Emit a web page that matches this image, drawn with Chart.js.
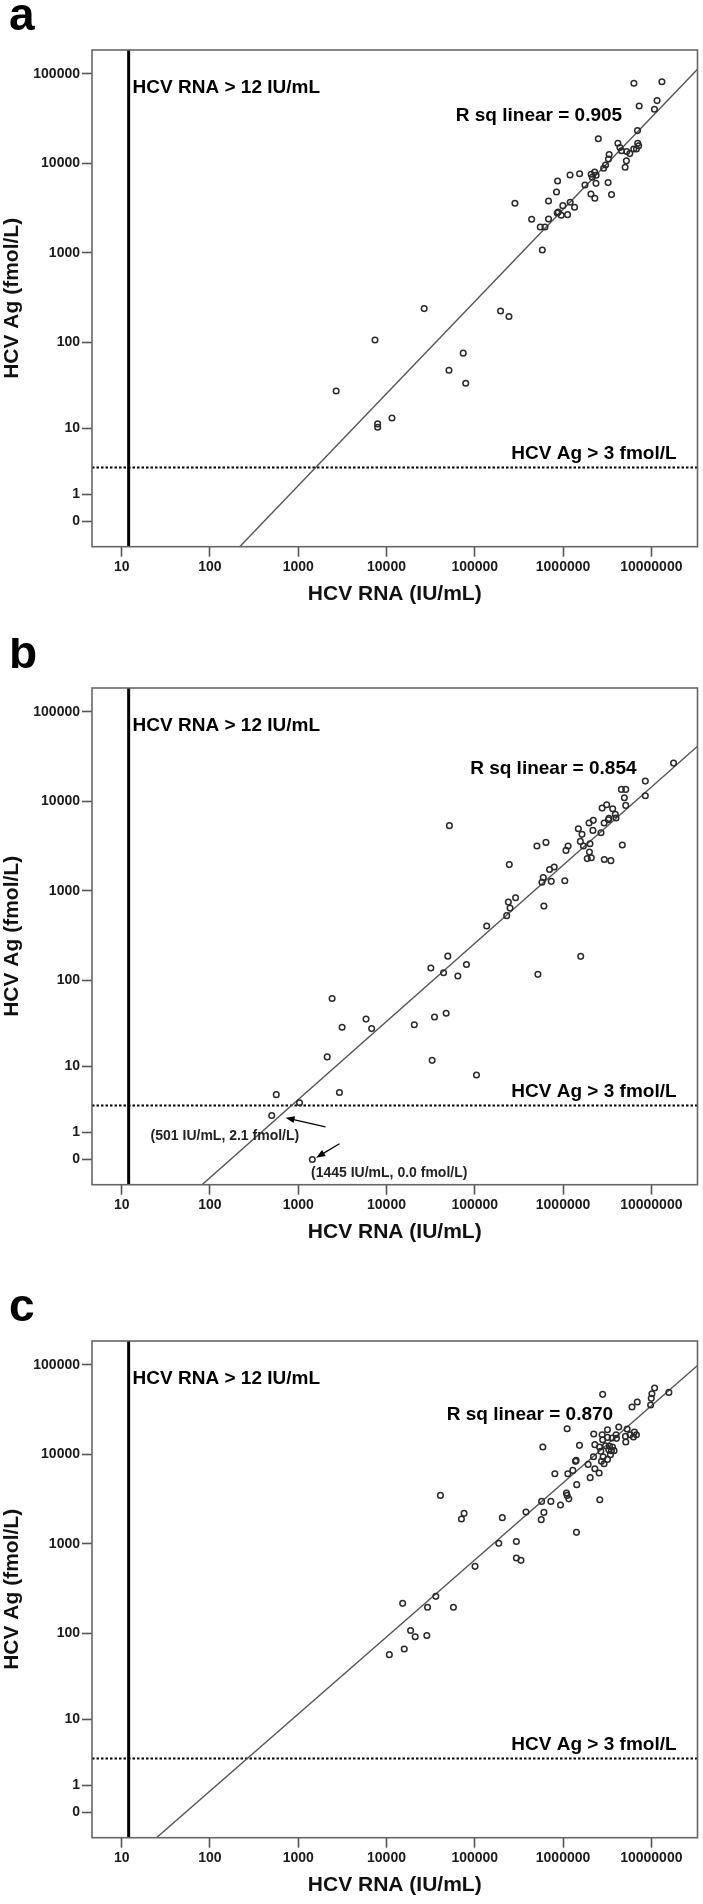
<!DOCTYPE html>
<html>
<head>
<meta charset="utf-8">
<script src="https://cdn.jsdelivr.net/npm/chart.js@4.4.1/dist/chart.umd.min.js"></script>
<style>
  html, body { margin: 0; padding: 0; background: #fff; }
  body { width: 703px; height: 1904px; position: relative; overflow: hidden; }
  canvas.panel { position: absolute; left: 0; }
</style>
</head>
<body>
<canvas id="chartA" class="panel" width="703" height="612" style="top:0px"></canvas>
<canvas id="chartB" class="panel" width="703" height="612" style="top:638px"></canvas>
<canvas id="chartC" class="panel" width="703" height="612" style="top:1291px"></canvas>
<script>
// Axis ticks (HCV RNA on log axis, HCV Ag on log(y+1) axis)
const xTickValues = [10, 100, 1000, 10000, 100000, 1000000, 10000000];
const xTickLabels = ['10', '100', '1000', '10000', '100000', '1000000', '10000000'];
const yTickValues = [0, 1, 10, 100, 1000, 10000, 100000];
const yTickLabels = ['0', '1', '10', '100', '1000', '10000', '100000'];

// Cut-off reference lines
const rnaCutoff = 12;   // IU/mL
const agCutoff = 3;     // fmol/L

// Panel a: HCV RNA (IU/mL) vs HCV Ag (fmol/L)
const rnaA = [6350000, 13180000, 11610000, 10840000, 7280000, 6970000, 2510000, 4180000, 4410000, 4600000,
  5270000, 6320000, 6780000, 7010000, 7190000, 5700000, 5220000, 5050000, 3330000, 3270000,
  3030000, 2880000, 3240000, 3540000, 2280000, 2080000, 2370000, 2140000, 2360000, 2070000,
  2290000, 1770000, 1540000, 1200000, 867000, 843000, 685000, 1205000, 995000, 1350000,
  881000, 859000, 953000, 1125000, 685000, 441000, 552000, 624000, 285000, 582000,
  26700, 196000, 244000, 2690, 7410, 7940, 7940, 11530, 51000, 74000, 79000];
const agA = [78700, 82000, 50400, 40300, 43900, 23300, 18900, 16800, 15100, 13900,
  13600, 14500, 14500, 16800, 15800, 12900, 10700, 9060, 12600, 11200,
  9620, 8830, 6110, 4490, 8040, 7570, 7380, 7010, 6000, 4560,
  4080, 5750, 7690, 7430, 6370, 4800, 3810, 3680, 3380, 3240,
  2870, 2800, 2640, 2680, 2400, 2380, 1950, 1950, 3590, 1080,
  238, 224, 194, 27.7, 105.7, 11.3, 10.3, 13.3, 48, 75, 34];

// Panel b
const rnaB = [17860000, 8550000, 8550000, 4580000, 5130000, 4950000, 5130000, 2770000, 3120000, 3650000,
  3910000, 3310000, 3980000, 2920000, 3270000, 2690000, 2200000, 1970000, 2180000, 1490000,
  1640000, 1570000, 1700000, 2020000, 1990000, 1880000, 2090000, 2930000, 3480000, 4690000,
  1140000, 1080000, 640000, 506000, 703000, 794000, 597000, 577000, 735000, 1047000,
  607000, 246000, 51600, 240000, 290000, 251000, 230000, 136500, 1585000, 519000,
  49500, 31800, 44300, 64300, 80500, 47400, 35000, 20650, 2420, 5860,
  3140, 6790, 2130, 32900, 564, 2930, 1035, 501, 1445, 104500];
const agB = [26850, 16900, 11600, 13650, 13650, 11000, 9040, 8430, 9180, 8280,
  7180, 6470, 6530, 5740, 6250, 4480, 6150, 5740, 4750, 4960,
  4290, 3580, 3180, 3370, 2720, 2300, 2350, 2250, 2180, 3260,
  3180, 2840, 3490, 3180, 1740, 1850, 1410, 1250, 1280, 1300,
  677, 1970, 5370, 750, 840, 643, 529, 405, 185, 116,
  186, 137, 121, 111, 150, 42, 38, 31, 62, 36,
  29, 28, 13, 11.8, 4.3, 4.6, 3.3, 2.1, 0, 7.8];

// Panel c
const rnaC = [15810000, 10890000, 10160000, 9980000, 9820000, 6930000, 6040000, 2810000, 1112000, 590000,
  1535000, 40830, 75680, 70630, 205100, 380200, 566200, 606700, 571500, 727800,
  935400, 1094000, 1112000, 1161000, 1419000, 1429000, 807200, 1132000, 1291000, 1384000,
  1406000, 1923000, 2028000, 2291000, 2564000, 2606000, 2291000, 2228000, 2773000, 3184000,
  2812000, 3184000, 3027000, 2679000, 2844000, 2723000, 2917000, 3296000, 3532000, 3784000,
  3443000, 3597000, 3990000, 4276000, 5093000, 5321000, 5741000, 6427000, 6776000, 6266000,
  5140000, 4027000, 3357000, 3631000, 2588000, 2213000, 3184000, 187100, 295800, 295800,
  333400, 100700, 36220, 29170, 57280, 15240, 18750, 21130, 28640, 10770, 15890];
const agC = [49400, 55300, 47750, 42360, 35730, 38550, 33960, 46990, 19410, 12130,
  12650, 3490, 2197, 1900, 1967, 2274, 1870, 2253, 2991, 2991,
  2728, 3714, 3490, 3191, 1348, 4602, 6094, 6094, 6637, 8374,
  8590, 7744, 5507, 6933, 6208, 3125, 12880, 16940, 16630, 18920,
  14620, 15520, 12530, 10840, 9440, 8374, 7888, 11320, 11040, 11040,
  9953, 15280, 16630, 20270, 15920, 19270, 16630, 17820, 16630, 15670,
  13800, 15140, 12330, 12130, 12130, 9440, 8810, 1015, 1066, 697,
  655, 561, 259, 195, 195, 216, 107, 91, 94, 57, 66];

// Linear fit in log space: log10(Ag+1) = intercept + slope * log10(RNA)
const fitSlope = [1.029, 0.873, 0.861];
const fitIntercept = [-2.687, -1.95, -1.483];
const rSquared = ['0.905', '0.854', '0.870'];

const FONT = '"Liberation Sans", Arial, Helvetica, sans-serif';
Chart.defaults.font.family = FONT;
Chart.defaults.color = '#111';

const toX = v => Math.log10(v);
const toY = v => Math.log10(v + 1);

// visible window in axis units
const X_MIN = 0.664, X_MAX = 7.523;
const Y_MIN = -0.282, Y_MAX = 5.268;

// frame, panel letter, text notes and arrows
const panelDecor = {
    id: 'panelDecor',
    afterDatasetsDraw(chart, args, opts) {
        const { ctx, chartArea: area } = chart;
        const xs = chart.scales.x, ys = chart.scales.y;
        ctx.save();
        ctx.strokeStyle = '#666';
        ctx.lineWidth = 1.6;
        ctx.strokeRect(area.left, area.top, area.right - area.left, area.bottom - area.top);

        ctx.fillStyle = '#000';
        ctx.font = 'bold 46px ' + FONT;
        ctx.textAlign = 'left';
        ctx.textBaseline = 'alphabetic';
        ctx.fillText(opts.letter, 9, 30);

        opts.notes.forEach(n => {
            ctx.font = n.font + ' ' + FONT;
            ctx.textAlign = n.align;
            ctx.textBaseline = 'middle';
            ctx.fillStyle = n.color || '#000';
            ctx.fillText(n.text, xs.getPixelForValue(n.at[0]), ys.getPixelForValue(n.at[1]));
        });

        (opts.arrows || []).forEach(a => {
            const x1 = xs.getPixelForValue(a.from[0]), y1 = ys.getPixelForValue(a.from[1]);
            const x2 = xs.getPixelForValue(a.to[0]), y2 = ys.getPixelForValue(a.to[1]);
            const ang = Math.atan2(y2 - y1, x2 - x1);
            ctx.strokeStyle = '#000';
            ctx.fillStyle = '#000';
            ctx.lineWidth = 1.3;
            ctx.beginPath();
            ctx.moveTo(x1, y1);
            ctx.lineTo(x2 - 6 * Math.cos(ang), y2 - 6 * Math.sin(ang));
            ctx.stroke();
            ctx.beginPath();
            ctx.moveTo(x2, y2);
            ctx.lineTo(x2 - 9 * Math.cos(ang) + 3.5 * Math.sin(ang), y2 - 9 * Math.sin(ang) - 3.5 * Math.cos(ang));
            ctx.lineTo(x2 - 9 * Math.cos(ang) - 3.5 * Math.sin(ang), y2 - 9 * Math.sin(ang) + 3.5 * Math.cos(ang));
            ctx.closePath();
            ctx.fill();
        });
        ctx.restore();
    }
};

function makeChart(canvasId, idx, rna, ag, letter, notes, arrows) {
    const ctx = document.getElementById(canvasId).getContext('2d');
    const points = rna.map((v, i) => ({ x: toX(v), y: toY(ag[i]) }));
    const m = fitSlope[idx], b = fitIntercept[idx];

    const allNotes = [
        { text: 'HCV RNA > 12 IU/mL', at: [1.124, 4.844], align: 'left', font: 'bold 19px' },
        { text: 'R sq linear = ' + rSquared[idx], at: notes.rsqAt, align: 'center', font: 'bold 19px' },
        { text: 'HCV Ag > 3 fmol/L', at: [7.286, 0.754], align: 'right', font: 'bold 19px' }
    ].concat(notes.extra || []);

    return new Chart(ctx, {
        type: 'scatter',
        data: {
            datasets: [
                {
                    data: points,
                    pointStyle: 'circle',
                    pointRadius: 2.8,
                    pointBorderWidth: 1.5,
                    borderColor: '#2a2a2a',
                    backgroundColor: 'rgba(0,0,0,0)'
                },
                {
                    data: [{ x: X_MIN, y: b + m * X_MIN }, { x: X_MAX, y: b + m * X_MAX }],
                    showLine: true,
                    pointRadius: 0,
                    borderColor: '#555',
                    borderWidth: 1.4
                },
                {
                    data: [{ x: toX(rnaCutoff), y: Y_MIN }, { x: toX(rnaCutoff), y: Y_MAX }],
                    showLine: true,
                    pointRadius: 0,
                    borderColor: '#000',
                    borderWidth: 3
                },
                {
                    data: [{ x: X_MIN, y: toY(agCutoff) }, { x: X_MAX, y: toY(agCutoff) }],
                    showLine: true,
                    pointRadius: 0,
                    borderColor: '#000',
                    borderWidth: 2,
                    borderDash: [2.5, 2]
                }
            ]
        },
        options: {
            responsive: false,
            animation: false,
            events: [],
            layout: { padding: { left: 0, top: 50, right: 4, bottom: 0 } },
            plugins: {
                legend: { display: false },
                tooltip: { enabled: false },
                panelDecor: { letter: letter, notes: allNotes, arrows: arrows }
            },
            scales: {
                x: {
                    type: 'linear',
                    min: X_MIN,
                    max: X_MAX,
                    afterBuildTicks: s => { s.ticks = xTickValues.map(v => ({ value: toX(v) })); },
                    afterFit: s => { s.height = 65.3; },
                    border: { display: false },
                    grid: { drawOnChartArea: false, drawTicks: true, tickLength: 10, tickColor: '#555', tickWidth: 1.6 },
                    ticks: {
                        autoSkip: false,
                        maxRotation: 0,
                        padding: 2,
                        color: '#1a1a1a',
                        font: { size: 14, weight: 'bold' },
                        callback: (value, index) => xTickLabels[index]
                    },
                    title: {
                        display: true,
                        text: 'HCV RNA (IU/mL)',
                        color: '#111',
                        font: { size: 21, weight: 'bold' },
                        padding: { top: 0, bottom: 5.4 }
                    }
                },
                y: {
                    type: 'linear',
                    min: Y_MIN,
                    max: Y_MAX,
                    afterBuildTicks: s => { s.ticks = yTickValues.map(v => ({ value: toY(v) })); },
                    afterFit: s => { s.width = 92; },
                    border: { display: false },
                    grid: { drawOnChartArea: false, drawTicks: true, tickLength: 10, tickColor: '#555', tickWidth: 1.6 },
                    ticks: {
                        autoSkip: false,
                        padding: 2,
                        color: '#1a1a1a',
                        font: { size: 14, weight: 'bold' },
                        callback: (value, index) => yTickLabels[index]
                    },
                    title: {
                        display: true,
                        text: 'HCV Ag (fmol/L)',
                        color: '#111',
                        font: { size: 21, weight: 'bold' },
                        padding: { top: 0, bottom: 0 }
                    }
                }
            }
        },
        plugins: [panelDecor]
    });
}

makeChart('chartA', 0, rnaA, agA, 'a', { rsqAt: [5.727, 4.531] });

makeChart('chartB', 1, rnaB, agB, 'b', {
    rsqAt: [5.890, 4.366],
    extra: [
        { text: '(501 IU/mL, 2.1 fmol/L)', at: [1.328, 0.258], align: 'left', font: 'bold 14px', color: '#222' },
        { text: '(1445 IU/mL, 0.0 fmol/L)', at: [3.145, -0.151], align: 'left', font: 'bold 14px', color: '#222' }
    ]
}, [
    { from: [3.308, 0.363], to: [2.857, 0.467] },
    { from: [3.467, 0.176], to: [3.203, 0.020] }
]);

makeChart('chartC', 2, rnaC, agC, 'c', { rsqAt: [5.625, 4.445] });
</script>
</body>
</html>
